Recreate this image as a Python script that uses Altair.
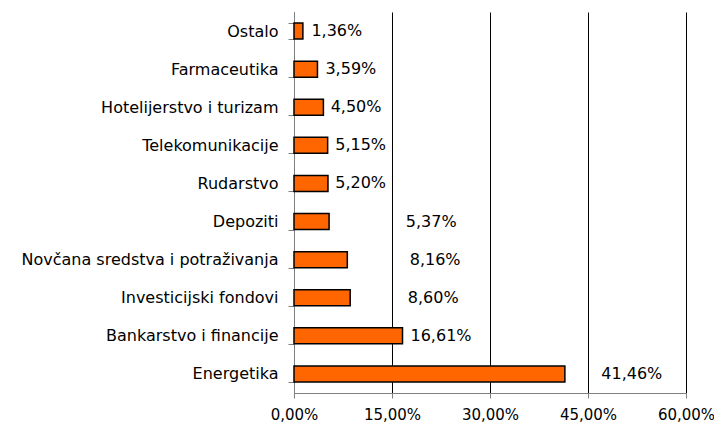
import altair as alt
import pandas as pd

categories = ["Ostalo", "Farmaceutika", "Hotelijerstvo i turizam", "Telekomunikacije",
              "Rudarstvo", "Depoziti", "Novčana sredstva i potraživanja",
              "Investicijski fondovi", "Bankarstvo i financije", "Energetika"]
values = [1.36, 3.59, 4.50, 5.15, 5.20, 5.37, 8.16, 8.60, 16.61, 41.46]
label_at = [6.55, 8.7, 9.5, 10.2, 10.2, 21.0, 21.6, 21.3, 22.5, 51.7]
x_ticks = [0, 15, 30, 45, 60]

df = pd.DataFrame({"cat": categories, "val": values, "lab": label_at})
df["txt"] = [f"{v:.2f}".replace(".", ",") + "%" for v in values]

FONT = "DejaVu Sans"
FS = 16

y_enc = alt.Y("cat:N", sort=categories, title=None,
              scale=alt.Scale(paddingInner=0.58, paddingOuter=0.29),
              axis=alt.Axis(tickBand="extent", domainColor="#808080", tickColor="#808080",
                            tickSize=6, labelPadding=10, labelFont=FONT, labelFontSize=FS,
                            labelColor="black", labelLimit=400, grid=False))

bars = alt.Chart(df).mark_bar(color="#FF6600", stroke="black", strokeWidth=1.5).encode(
    x=alt.X("val:Q", title=None,
            scale=alt.Scale(domain=[0, 60], nice=False),
            axis=alt.Axis(values=x_ticks, grid=True, gridColor="black", gridOpacity=1,
                          gridWidth=1, domainColor="#808080", tickColor="#808080",
                          tickSize=5, labelPadding=9, labelFont=FONT, labelFontSize=15,
                          labelColor="black", labelFlush=False,
                          labelExpr="replace(format(datum.value, '.2f'), '.', ',') + '%'")),
    y=y_enc,
)

labels = alt.Chart(df).mark_text(font=FONT, fontSize=FS, color="black", align="center",
                                  baseline="middle").encode(
    x=alt.X("lab:Q"),
    y=alt.Y("cat:N", sort=categories),
    text="txt:N",
)

chart = alt.layer(bars, labels).properties(
    width=392, height=381,
    autosize=alt.AutoSizeParams(type="none"),
    padding={"left": 286, "top": 4, "right": 28, "bottom": 34},
).configure_view(stroke=None)

chart.save("out.html", embed_options={"renderer": "svg", "actions": False})
